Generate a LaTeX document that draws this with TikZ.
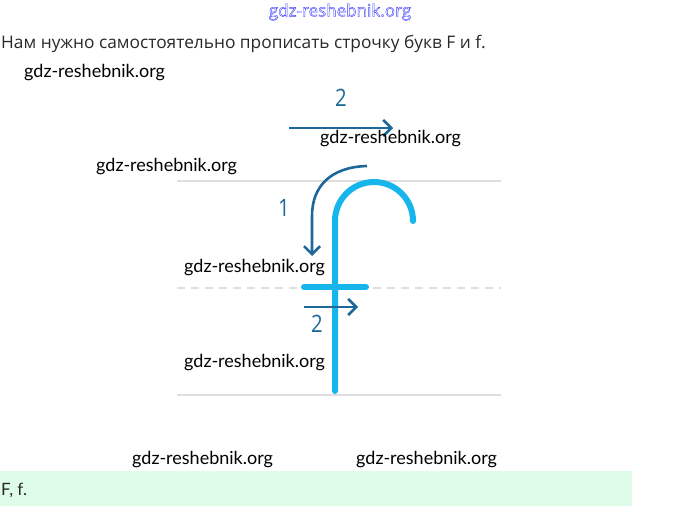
\documentclass[tikz,border=0pt]{standalone}
\usepackage{fontspec}
\setmainfont{Open Sans}
\newfontfamily\wmfont{Lato}
\usetikzlibrary{arrows.meta}
\definecolor{letterblue}{RGB}{22,182,236}
\definecolor{arrowblue}{RGB}{28,104,152}
\definecolor{guidegrey}{RGB}{222,222,222}
\definecolor{bandgreen}{RGB}{222,252,232}
\definecolor{textgrey}{RGB}{40,40,40}
\newcommand{\outlined}[1]{\special{pdf:literal direct 1 Tr 0.4 w}#1\special{pdf:literal direct 0 Tr}}
\tikzset{
  wm/.style={font=\wmfont\fontsize{18}{20}\selectfont, inner sep=0pt, anchor=west},
  guide/.style={guidegrey, line width=2pt},
  letter/.style={letterblue, line width=6pt, line cap=round},
  move/.style={arrowblue, line width=2.6pt, -{Straight Barb[length=8pt, width=16pt, line width=2.6pt]}},
  num/.style={arrowblue, font=\fontsize{24}{26}\selectfont, inner sep=0pt, xscale=0.85}
}
\begin{document}
\begin{tikzpicture}[x=1pt, y=-1pt]
    \useasboundingbox (0,0) rectangle (680,506);
    % band at the bottom
    \fill[bandgreen] (0,471) rectangle (632,506);
    \node[anchor=west, inner sep=0pt, font=\wmfont\fontsize{17}{19}\selectfont, textgrey] at (1,490) (answer) {F, f.};
    % heading
    \node[inner sep=0pt, font=\fontsize{17}{19}\selectfont, blue!75] at (340,12) (topmark) {\outlined{gdz-reshebnik.org}};
    \node[anchor=west, inner sep=0pt, font=\fontsize{17.3}{19}\selectfont, textgrey] at (1,44) (task) {Нам нужно самостоятельно прописать строчку букв F и f.};
    % guide lines
    \coordinate (G1a) at (177,181); \coordinate (G1b) at (501,181);
    \coordinate (G2a) at (177,288); \coordinate (G2b) at (501,288);
    \coordinate (G3a) at (177,395); \coordinate (G3b) at (501,395);
    \draw[guide] (G1a) -- (G1b);
    \draw[guide, dash pattern=on 8pt off 6pt] (G2a) -- (G2b);
    \draw[guide] (G3a) -- (G3b);
    % the letter f
    \coordinate (S0) at (335,391);
    \coordinate (S1) at (335,221);
    \coordinate (B0) at (304,287);
    \coordinate (B1) at (366,287);
    \draw[letter] (S0) -- (S1) arc[start angle=180, end angle=360, radius=39];
    \draw[letter] (B0) -- (B1);
    % strokes
    \coordinate (A0) at (367,166);
    \coordinate (A1) at (312,216);
    \coordinate (A2) at (312,256);
    \draw[move] (A0) .. controls (331,167) and (312,186) .. (A1) -- (A2);
    \node[num] at (284,208) (N1) {1};
    \coordinate (T0) at (289,128);
    \coordinate (T1) at (393,128);
    \draw[move] (T0) -- (T1);
    \node[num] at (341,98) (N2) {2};
    \coordinate (C0) at (304,307);
    \coordinate (C1) at (358,307);
    \draw[move] (C0) -- (C1);
    \node[num] at (317,324) (N3) {2};
    % watermarks
    \node[wm] at (24,73) (W1) {gdz-reshebnik.org};
    \node[wm] at (320,139) (W2) {gdz-reshebnik.org};
    \node[wm] at (96,167) (W3) {gdz-reshebnik.org};
    \node[wm] at (184,268) (W4) {gdz-reshebnik.org};
    \node[wm] at (184,363) (W5) {gdz-reshebnik.org};
    \node[wm] at (132,460) (W6) {gdz-reshebnik.org};
    \node[wm] at (356,460) (W7) {gdz-reshebnik.org};
\end{tikzpicture}
\end{document}
